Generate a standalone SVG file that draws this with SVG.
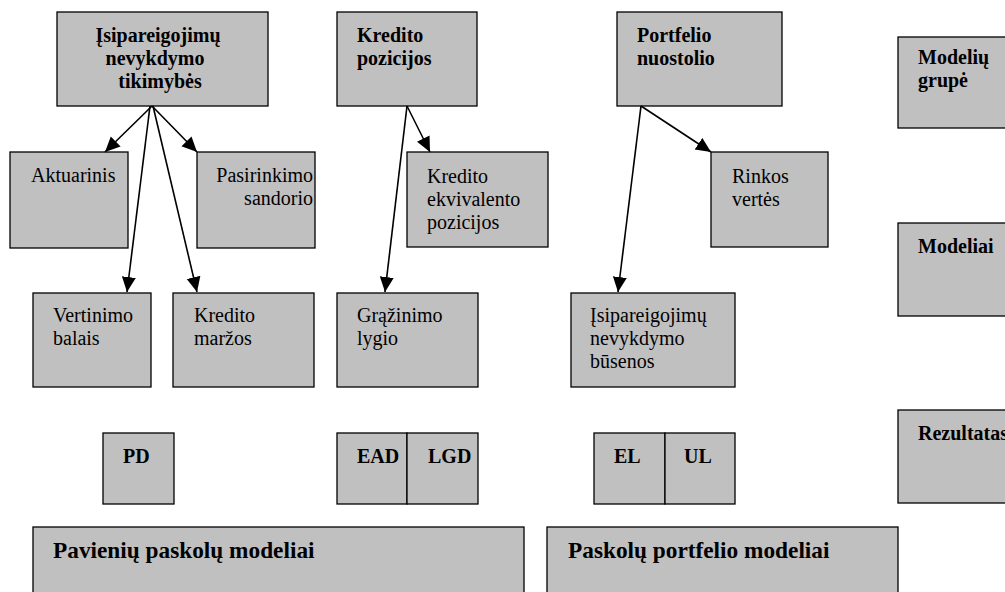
<svg xmlns="http://www.w3.org/2000/svg" width="1005" height="592" viewBox="0 0 1005 592">
<style>
.box{fill:#c0c0c0;stroke:#000;stroke-width:1.3}
.t{font-family:"Liberation Serif","Times New Roman",serif;font-size:20px;fill:#000}
.b{font-weight:bold}
.big{font-size:23.3px}
.c{stroke:#000;stroke-width:1.6;fill:none;marker-end:url(#ah)}
</style>
<defs>
<marker id="ah" markerUnits="userSpaceOnUse" markerWidth="18" markerHeight="16" refX="15" refY="7" orient="auto">
<path d="M0,0 L15,7 L0,14 Z" fill="#000"/>
</marker>
</defs>
<rect width="1005" height="592" fill="#fff"/>
<g id="n-pd-top"><rect class="box" x="57" y="12" width="211" height="94"/>
<text class="t b" text-anchor="middle"><tspan x="158" y="42">Įsipareigojimų</tspan><tspan x="155" y="65">nevykdymo</tspan><tspan x="160" y="88">tikimybės</tspan></text></g>
<g id="n-kredpoz"><rect class="box" x="337" y="12" width="140" height="94"/>
<text class="t b"><tspan x="357" y="42">Kredito</tspan><tspan x="357" y="65">pozicijos</tspan></text></g>
<g id="n-portf"><rect class="box" x="617" y="12" width="165" height="94"/>
<text class="t b"><tspan x="637" y="42">Portfelio</tspan><tspan x="637" y="65">nuostolio</tspan></text></g>
<g id="n-grupe"><rect class="box" x="898" y="37" width="120" height="91"/>
<text class="t b"><tspan x="918" y="64">Modelių</tspan><tspan x="918" y="87">grupė</tspan></text></g>
<g id="n-akt"><rect class="box" x="10" y="152" width="118" height="96"/>
<text class="t" x="31" y="182">Aktuarinis</text></g>
<g id="n-pasir"><rect class="box" x="197" y="152" width="118" height="96"/>
<text class="t" text-anchor="end"><tspan x="313" y="182">Pasirinkimo</tspan><tspan x="313" y="205">sandorio</tspan></text></g>
<g id="n-kev"><rect class="box" x="407" y="152" width="141" height="95"/>
<text class="t"><tspan x="427" y="183">Kredito</tspan><tspan x="427" y="206">ekvivalento</tspan><tspan x="427" y="229">pozicijos</tspan></text></g>
<g id="n-rink"><rect class="box" x="711" y="152" width="117" height="95"/>
<text class="t"><tspan x="732" y="183">Rinkos</tspan><tspan x="732" y="206">vertės</tspan></text></g>
<g id="n-modeliai"><rect class="box" x="898" y="223" width="120" height="93"/>
<text class="t b" x="918" y="253">Modeliai</text></g>
<g id="n-vert"><rect class="box" x="33" y="293" width="118" height="94"/>
<text class="t"><tspan x="53" y="322">Vertinimo</tspan><tspan x="53" y="345">balais</tspan></text></g>
<g id="n-marz"><rect class="box" x="173" y="293" width="141" height="94"/>
<text class="t"><tspan x="194" y="322">Kredito</tspan><tspan x="194" y="345">maržos</tspan></text></g>
<g id="n-graz"><rect class="box" x="337" y="293" width="141" height="94"/>
<text class="t"><tspan x="357" y="322">Grąžinimo</tspan><tspan x="357" y="345">lygio</tspan></text></g>
<g id="n-bus"><rect class="box" x="571" y="293" width="164" height="94"/>
<text class="t"><tspan x="590" y="322">Įsipareigojimų</tspan><tspan x="590" y="345">nevykdymo</tspan><tspan x="590" y="368">būsenos</tspan></text></g>
<g id="n-rez"><rect class="box" x="898" y="410" width="120" height="93"/>
<text class="t b" x="918" y="440">Rezultatas</text></g>
<g id="n-pd"><rect class="box" x="103" y="433" width="71" height="71"/>
<text class="t b" x="123" y="463">PD</text></g>
<g id="n-ead"><rect class="box" x="337" y="433" width="70" height="71"/>
<text class="t b" x="357" y="463">EAD</text></g>
<g id="n-lgd"><rect class="box" x="407" y="433" width="71" height="71"/>
<text class="t b" x="428" y="463">LGD</text></g>
<g id="n-el"><rect class="box" x="594" y="433" width="71" height="71"/>
<text class="t b" x="614" y="463">EL</text></g>
<g id="n-ul"><rect class="box" x="665" y="433" width="70" height="71"/>
<text class="t b" x="684" y="463">UL</text></g>
<g id="n-pav"><rect class="box" x="33" y="527" width="491" height="80"/>
<text class="t b big" x="53" y="558">Pavienių paskolų modeliai</text></g>
<g id="n-pask"><rect class="box" x="547" y="527" width="351" height="80"/>
<text class="t b big" x="568" y="558">Paskolų portfelio modeliai</text></g>
<g id="connectors">
<line class="c" x1="152" y1="106" x2="105" y2="152"/>
<line class="c" x1="152" y1="106" x2="197" y2="152"/>
<line class="c" x1="150" y1="106" x2="127" y2="292"/>
<line class="c" x1="153" y1="106" x2="197" y2="292"/>
<line class="c" x1="407" y1="106" x2="430" y2="152"/>
<line class="c" x1="407" y1="106" x2="385" y2="292"/>
<line class="c" x1="641" y1="106" x2="711" y2="152"/>
<line class="c" x1="641" y1="106" x2="618" y2="292"/>
</g>
</svg>
